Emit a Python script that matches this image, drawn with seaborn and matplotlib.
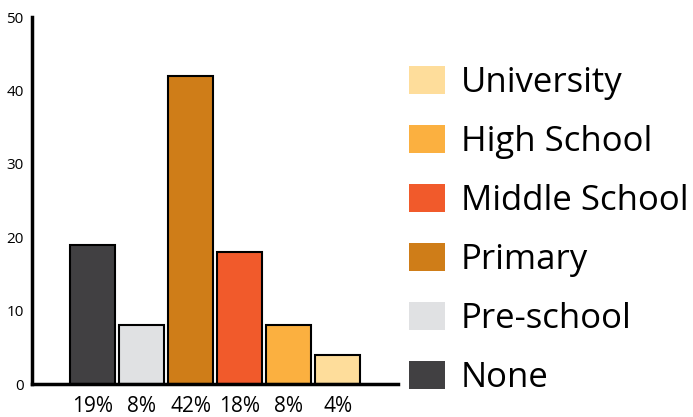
import matplotlib
matplotlib.use("Agg")
import matplotlib.pyplot as plt
from matplotlib.patches import Patch
import seaborn as sns
import pandas as pd

categories = ["None", "Pre-school", "Primary", "Middle School", "High School", "University"]
values = [19, 8, 42, 18, 8, 4]
pct_labels = ["19%", "8%", "42%", "18%", "8%", "4%"]
colors = ["#414042", "#e0e1e3", "#cf7d18", "#f15a2b", "#fbb040", "#fedd9b"]
yticks = [0, 10, 20, 30, 40, 50]

sns.set_style("white")
plt.rcParams["font.family"] = ["Open Sans", "DejaVu Sans"]
plt.rcParams["text.color"] = "black"

df = pd.DataFrame({"cat": categories, "val": values})

fig = plt.figure(figsize=(6.93, 4.17), dpi=100)
ax = fig.add_axes([32/693, 1-384/417, (398-32)/693, (384-17)/417])

sns.barplot(data=df, x="cat", y="val", hue="cat", order=categories, hue_order=categories,
            palette=colors, edgecolor="black", linewidth=1.5, width=0.92,
            legend=False, ax=ax, saturation=1)

xmin, xmax = -1.235, 6.23
ax.set_xlim(xmin, xmax)
ax.set_ylim(0, 50)
ax.set_yticks(yticks)
ax.set_yticklabels([str(t) for t in yticks], fontsize=11)
ax.set_xticks(range(len(categories)))
ax.set_xticklabels(pct_labels, fontsize=15)
ax.set_xticks([xmax - 0.01], minor=True)
ax.set_xlabel("")
ax.set_ylabel("")

for s in ["top", "right"]:
    ax.spines[s].set_visible(False)
for s in ["left", "bottom"]:
    ax.spines[s].set_linewidth(2.5)
    ax.spines[s].set_color("black")

ax.tick_params(axis="y", direction="in", length=7, width=2.5, pad=6, colors="black", labelcolor="black")
ax.tick_params(axis="x", which="major", length=0, pad=8.5, colors="black", labelcolor="black")
ax.tick_params(axis="x", which="minor", direction="in", length=6, width=2.5, colors="black")

handles = [Patch(facecolor=colors[i], edgecolor="none", label=categories[i]) for i in range(len(categories) - 1, -1, -1)]
leg = fig.legend(handles=handles, loc="upper left", bbox_to_anchor=(409/693, 1-66/417),
                 frameon=False, fontsize=25, handlelength=1.05, handleheight=0.85,
                 handletextpad=0.45, labelspacing=0.72, borderaxespad=0, borderpad=0,
                 labelcolor="black")

fig.savefig("out.png", dpi=100)
